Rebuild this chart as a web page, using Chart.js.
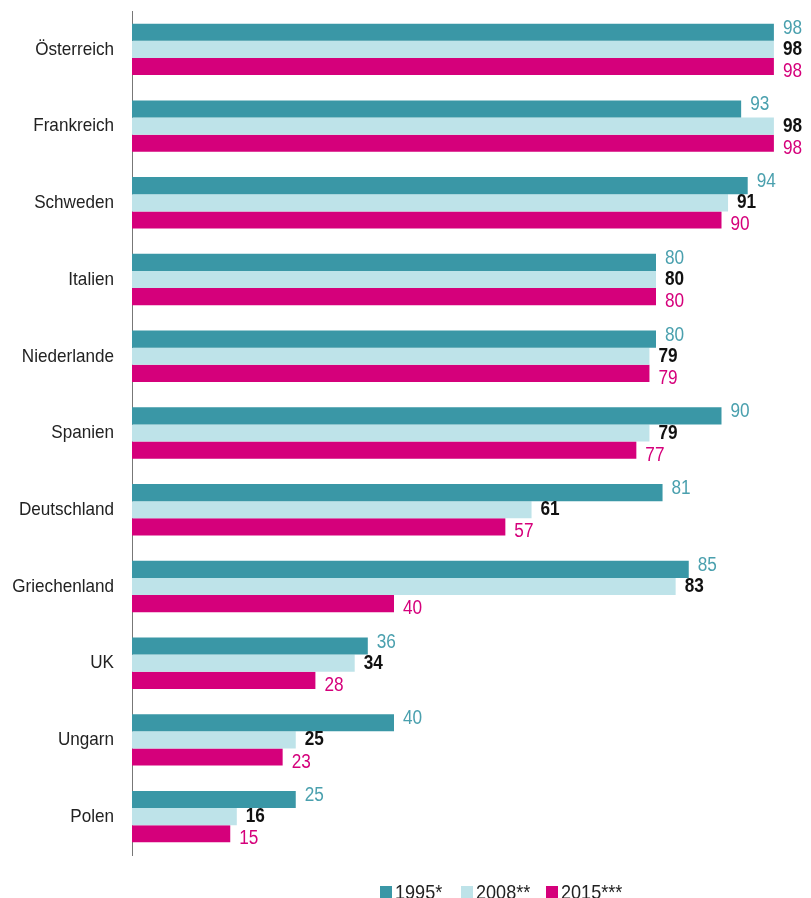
<!DOCTYPE html>
<html lang="de">
<head>
<meta charset="UTF-8">
<title>Länder 1995 / 2008 / 2015</title>
<style>
    body { margin: 0; padding: 0; background: #fff; overflow: hidden; }
    canvas { display: block; }
</style>
<script src="https://cdn.jsdelivr.net/npm/chart.js"></script>
</head>
<body>
<canvas id="chart" width="811" height="898"></canvas>
<script>
const countries = ["Österreich", "Frankreich", "Schweden", "Italien", "Niederlande", "Spanien",
    "Deutschland", "Griechenland", "UK", "Ungarn", "Polen"];
const seriesNames = ["1995*", "2008**", "2015***"];
const values1995 = [98, 93, 94, 80, 80, 90, 81, 85, 36, 40, 25];
const values2008 = [98, 98, 91, 80, 79, 79, 61, 83, 34, 25, 16];
const values2015 = [98, 98, 90, 80, 79, 77, 57, 40, 28, 23, 15];

const barColors = ["#3a97a6", "#bee3e9", "#d5007b"];
const labelColors = ["#4aa0ae", "#111111", "#d5007b"];
const labelShift = [-4, 0, 5];
const font = "'Liberation Sans', Arial, sans-serif";

// text squeezed horizontally to imitate the condensed face
function narrowText(ctx, text, x, y, squeeze) {
    ctx.save();
    ctx.translate(x, y);
    ctx.scale(squeeze, 1);
    ctx.fillText(text, 0, 0);
    ctx.restore();
}

const extras = {
    id: "extras",
    afterDatasetsDraw(chart) {
        const ctx = chart.ctx;
        ctx.save();
        ctx.textBaseline = "middle";

        // value labels
        ctx.textAlign = "left";
        chart.data.datasets.forEach((ds, i) => {
            const meta = chart.getDatasetMeta(i);
            ctx.fillStyle = labelColors[i];
            ctx.font = (i === 1 ? "bold " : "") + "20px " + font;
            meta.data.forEach((bar, j) => {
                narrowText(ctx, String(ds.data[j]), bar.x + 9, bar.y + labelShift[i], 0.86);
            });
        });

        // category labels
        const yScale = chart.scales.y;
        ctx.textAlign = "right";
        ctx.fillStyle = "#222";
        ctx.font = "19px " + font;
        countries.forEach((c, j) => {
            narrowText(ctx, c, yScale.left - 18, yScale.getPixelForValue(j), 0.9);
        });

        // legend
        const legendX = [380, 461, 546];
        ctx.textAlign = "left";
        ctx.font = "21px " + font;
        seriesNames.forEach((name, i) => {
            ctx.fillStyle = barColors[i];
            ctx.fillRect(legendX[i], 886, 12, 12);
            ctx.fillStyle = "#222";
            narrowText(ctx, name, legendX[i] + 15, 893, 0.86);
        });
        ctx.restore();
    }
};

new Chart(document.getElementById("chart"), {
    type: "bar",
    data: {
        labels: countries,
        datasets: [
            { label: seriesNames[0], data: values1995, backgroundColor: barColors[0] },
            { label: seriesNames[1], data: values2008, backgroundColor: barColors[1] },
            { label: seriesNames[2], data: values2015, backgroundColor: barColors[2] }
        ]
    },
    options: {
        indexAxis: "y",
        responsive: false,
        animation: false,
        layout: { padding: { top: 11, right: 24, bottom: 43, left: 132 } },
        datasets: { bar: { categoryPercentage: 0.67, barPercentage: 1.0 } },
        plugins: { legend: { display: false }, tooltip: { enabled: false } },
        scales: {
            x: { display: false, min: 0, max: 100 },
            y: {
                grid: { display: false, drawTicks: false },
                border: { display: true, color: "#777", width: 1 },
                ticks: { display: false }
            }
        }
    },
    plugins: [extras]
});
</script>
</body>
</html>
